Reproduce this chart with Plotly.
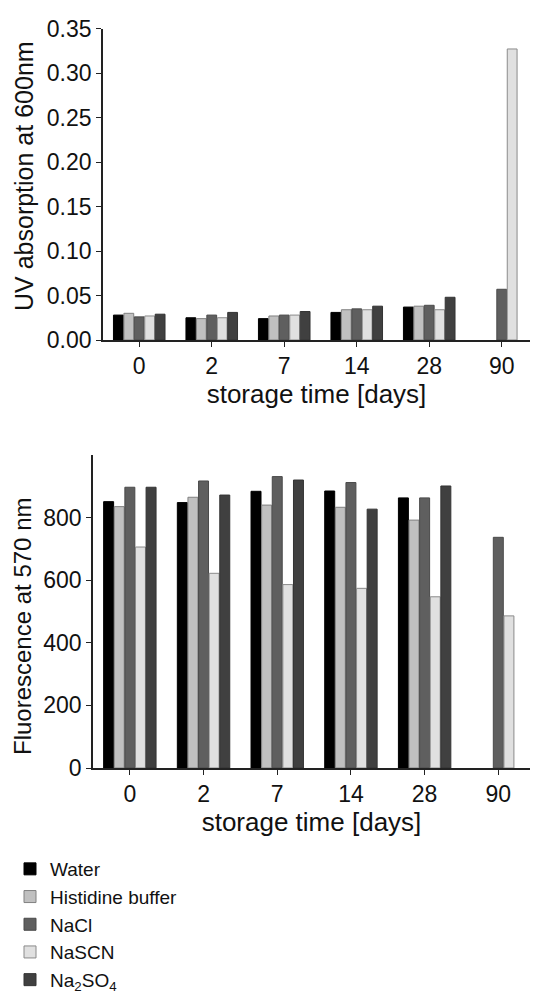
import plotly.graph_objects as go

days = ["0", "2", "7", "14", "28", "90"]
series_names = ["Water", "Histidine buffer", "NaCl", "NaSCN", "Na<sub>2</sub>SO<sub>4</sub>"]
colors = ["#000000", "#c0c0c0", "#5f5f5f", "#e0e0e0", "#404040"]
outline = ["#000000", "#808080", "#4a4a4a", "#8a8a8a", "#333333"]

uv_water = [0.028, 0.025, 0.024, 0.031, 0.037, None]
uv_histidine = [0.030, 0.024, 0.027, 0.034, 0.038, None]
uv_nacl = [0.026, 0.028, 0.028, 0.035, 0.039, 0.057]
uv_nascn = [0.027, 0.025, 0.028, 0.034, 0.034, 0.327]
uv_na2so4 = [0.029, 0.031, 0.032, 0.038, 0.048, None]

fl_water = [851, 848, 884, 885, 863, None]
fl_histidine = [835, 865, 840, 833, 792, None]
fl_nacl = [897, 917, 931, 912, 863, 737]
fl_nascn = [706, 622, 586, 574, 547, 486]
fl_na2so4 = [897, 872, 920, 827, 901, None]

uv_ticks = [0.0, 0.05, 0.10, 0.15, 0.20, 0.25, 0.30, 0.35]
uv_ticktext = ["0.00", "0.05", "0.10", "0.15", "0.20", "0.25", "0.30", "0.35"]
fl_ticks = [0, 200, 400, 600, 800]

uv_title = "UV absorption at 600nm"
fl_title = "Fluorescence at 570 nm"
x_title = "storage time [days]"

uv_data = [uv_water, uv_histidine, uv_nacl, uv_nascn, uv_na2so4]
fl_data = [fl_water, fl_histidine, fl_nacl, fl_nascn, fl_na2so4]

FONT = "Liberation Sans, Arial, sans-serif"
W, H = 536, 999

fig = go.Figure()
for i, name in enumerate(series_names):
    fig.add_trace(go.Bar(
        x=days, y=uv_data[i], name=name,
        marker=dict(color=colors[i], line=dict(color=outline[i], width=1)),
        xaxis="x", yaxis="y", showlegend=True))
for i, name in enumerate(series_names):
    fig.add_trace(go.Bar(
        x=days, y=fl_data[i], name=name,
        marker=dict(color=colors[i], line=dict(color=outline[i], width=1)),
        xaxis="x2", yaxis="y2", showlegend=False))

axis_common = dict(
    showline=True, linecolor="#222222", linewidth=1.6,
    ticks="outside", ticklen=5, tickwidth=1.4, tickcolor="#222222",
    showgrid=False, zeroline=False, automargin=False,
    tickfont=dict(family=FONT, size=23, color="#111111"),
)

fig.update_layout(
    width=W, height=H,
    margin=dict(l=0, r=0, t=0, b=0, autoexpand=False),
    paper_bgcolor="white", plot_bgcolor="white",
    barmode="group", bargap=0.28, bargroupgap=0.06,
    font=dict(family=FONT, color="#111111"),
    xaxis=dict(domain=[103 / W, 530 / W], anchor="y", type="category",
               range=[-0.5, 5.39],
               title=dict(text=x_title, font=dict(size=26), standoff=2),
               **axis_common),
    yaxis=dict(domain=[(H - 340) / H, (H - 28.5) / H], anchor="x",
               range=[0, 0.35], tickvals=uv_ticks, ticktext=uv_ticktext,
               **axis_common),
    xaxis2=dict(domain=[93 / W, 530 / W], anchor="y2", type="category",
                range=[-0.5, 5.43],
                title=dict(text=x_title, font=dict(size=26), standoff=2),
                **axis_common),
    yaxis2=dict(domain=[(H - 768) / H, (H - 455) / H], anchor="x2",
                range=[0, 1000], tickvals=fl_ticks,
                **axis_common),
    legend=dict(x=10 / W, y=0.0, xanchor="left", yanchor="bottom",
                font=dict(family=FONT, size=19, color="#111111"),
                bgcolor="rgba(0,0,0,0)", tracegroupgap=0),
    annotations=[
        dict(text=uv_title, textangle=-90, x=24 / W, y=(H - 176) / H,
             xref="paper", yref="paper", xanchor="center", yanchor="middle",
             showarrow=False, font=dict(family=FONT, size=25, color="#111111")),
        dict(text=fl_title, textangle=-90, x=22 / W, y=(H - 627) / H,
             xref="paper", yref="paper", xanchor="center", yanchor="middle",
             showarrow=False, font=dict(family=FONT, size=24, color="#111111")),
    ],
)

fig.write_html("out.html")
